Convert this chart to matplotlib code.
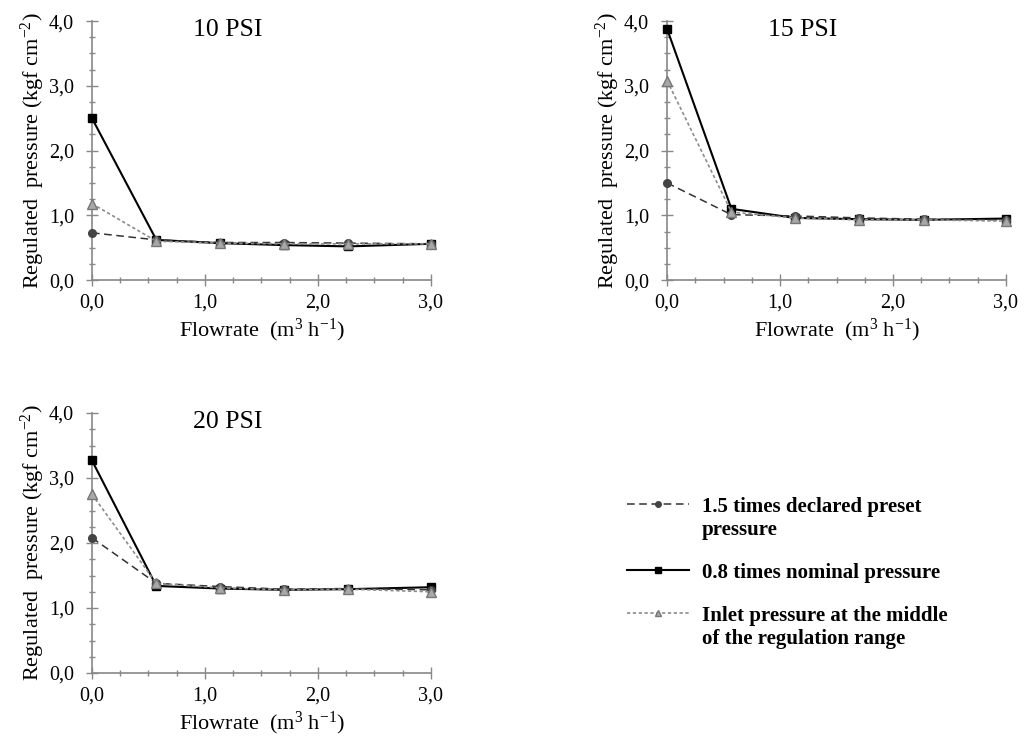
import matplotlib
matplotlib.use("Agg")
import matplotlib.pyplot as plt
from matplotlib.ticker import MultipleLocator, FuncFormatter

plt.rcParams['font.family'] = ['Liberation Serif', 'DejaVu Serif']
plt.rcParams['mathtext.fontset'] = 'custom'
plt.rcParams['mathtext.rm'] = 'Liberation Serif'
plt.rcParams['mathtext.it'] = 'Liberation Serif:italic'

flow = [0.0, 0.57, 1.13, 1.70, 2.27, 3.0]

panels = ["10 PSI", "15 PSI", "20 PSI"]

# 1.5 times declared preset pressure
p15 = {
    "10 PSI": [0.73, 0.62, 0.58, 0.58, 0.57, 0.56],
    "15 PSI": [1.50, 1.01, 0.99, 0.96, 0.94, 0.93],
    "20 PSI": [2.08, 1.38, 1.33, 1.29, 1.30, 1.28],
}
# 0.8 times nominal pressure
p08 = {
    "10 PSI": [2.50, 0.62, 0.57, 0.54, 0.52, 0.56],
    "15 PSI": [3.88, 1.10, 0.96, 0.94, 0.93, 0.95],
    "20 PSI": [3.27, 1.34, 1.30, 1.28, 1.29, 1.32],
}
# Inlet pressure at the middle of the regulation range
pmid = {
    "10 PSI": [1.18, 0.60, 0.57, 0.56, 0.56, 0.56],
    "15 PSI": [3.08, 1.05, 0.96, 0.93, 0.93, 0.91],
    "20 PSI": [2.75, 1.38, 1.31, 1.28, 1.29, 1.25],
}

labels = ["1.5 times declared preset\npressure",
          "0.8 times nominal pressure",
          "Inlet pressure at the middle\nof the regulation range"]

fig = plt.figure(figsize=(10.24, 7.37), dpi=100)
positions = {
    "10 PSI": [0.0898, 0.620, 0.331, 0.3514],
    "15 PSI": [0.6514, 0.620, 0.331, 0.3514],
    "20 PSI": [0.0898, 0.0868, 0.331, 0.3528],
}

comma = FuncFormatter(lambda v, p: f"{v:.1f}".replace(".", ","))
handles = None
for name in panels:
    ax = fig.add_axes(positions[name])
    h2, = ax.plot(flow, p08[name], color='black', lw=1.5, marker='s', ms=6,
                  mfc='black', mec='black', zorder=3)
    h1, = ax.plot(flow, p15[name], color='#333333', lw=1.1, ls=(0, (5, 3)), marker='o',
                  ms=5.5, mfc='#444444', mec='#444444', zorder=4)
    h3, = ax.plot(flow, pmid[name], color='#8c8c8c', lw=1.2, ls=(0, (2, 1.5)), marker='^',
                  ms=6.5, mfc='#a8a8a8', mec='#777777', zorder=5)
    handles = [h1, h2, h3]
    ax.set_xlim(0, 3.0)
    ax.set_ylim(0, 4.0)
    ax.xaxis.set_major_locator(MultipleLocator(1.0))
    ax.xaxis.set_minor_locator(MultipleLocator(0.25))
    ax.yaxis.set_major_locator(MultipleLocator(1.0))
    ax.yaxis.set_minor_locator(MultipleLocator(0.25))
    ax.xaxis.set_major_formatter(comma)
    ax.yaxis.set_major_formatter(comma)
    for s in ['top', 'right']:
        ax.spines[s].set_visible(False)
    for s in ['left', 'bottom']:
        ax.spines[s].set_color('#888888')
        ax.spines[s].set_linewidth(1.2)
    ax.tick_params(axis='both', which='both', color='#888888', labelsize=14.5,
                   direction='inout', width=1.0)
    ax.tick_params(axis='both', which='major', length=8)
    ax.tick_params(axis='both', which='minor', length=5)
    ax.tick_params(axis='x', pad=6)
    ax.tick_params(axis='y', pad=9)
    ax.set_xlabel(r'Flowrate  (m$^{3}$ h$^{-1}$)', fontsize=16, labelpad=3)
    ax.set_ylabel(r'Regulated  pressure (kgf cm$^{-2}$)', fontsize=16, labelpad=1)
    ax.text(0.40, 0.965, name, transform=ax.transAxes, fontsize=18.5,
            ha='center', va='center')
    for sp in ax.spines.values():
        sp.set_clip_on(False)
    for ln in handles:
        ln.set_clip_on(False)

leg = fig.legend(handles, labels, loc='upper left', bbox_to_anchor=(0.612, 0.326),
                 frameon=False, handlelength=3.0, handletextpad=0.6,
                 borderpad=0, borderaxespad=0,
                 labelspacing=1.1, prop={'family': 'Liberation Serif', 'weight': 'bold', 'size': 15})
for lh in leg.legend_handles:
    lh.set_markersize(4)
# align each legend handle with the first line of its label
for col in leg._legend_handle_box.get_children():
    for row in col.get_children():
        row.align = "top"

fig.savefig('out.png', dpi=100, facecolor='white')
